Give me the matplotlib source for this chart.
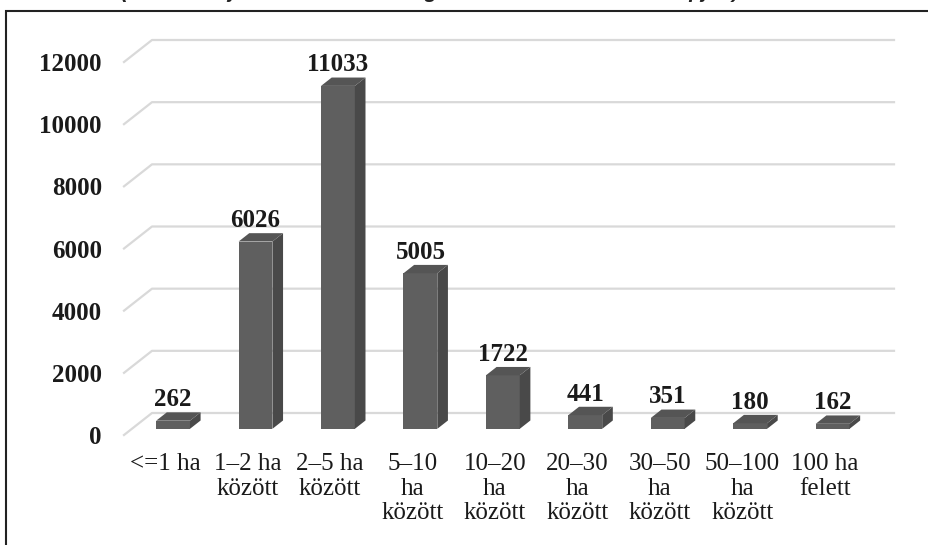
import matplotlib
matplotlib.use("Agg")
import matplotlib.pyplot as plt
from matplotlib.patches import Polygon, Rectangle

categories = ["<=1 ha", "1–2 ha\nközött", "2–5 ha\nközött", "5–10\nha\nközött",
              "10–20\nha\nközött", "20–30\nha\nközött", "30–50\nha\nközött",
              "50–100\nha\nközött", "100 ha\nfelett"]
values = [262, 6026, 11033, 5005, 1722, 441, 351, 180, 162]
yticks = [0, 2000, 4000, 6000, 8000, 10000, 12000]

W, H = 929, 545
fig = plt.figure(figsize=(W / 100, H / 100), dpi=100)
fig.patch.set_facecolor("white")

# front plane of the 3d box, in pixels
left_px, right_px = 124, 866
bottom_px, top_px = 435, 62
ax = fig.add_axes([left_px / W, 1 - bottom_px / H,
                   (right_px - left_px) / W, (bottom_px - top_px) / H])
ax.set_xlim(-0.5, len(values) - 0.5)
ax.set_ylim(0, 12000)
for s in ax.spines.values():
    s.set_visible(False)

# depth offset (full floor depth) in data units
cat_px = (right_px - left_px) / len(values)
px_per_unit = (bottom_px - top_px) / 12000
DX = 28 / cat_px
DY = 22 / px_per_unit

grid_c = "#d9d9d9"
for v in yticks:
    ax.plot([-0.5, -0.5 + DX, len(values) - 0.5 + DX], [v, v + DY, v + DY],
            color=grid_c, lw=1.6, clip_on=False, zorder=1)

d0, d1 = 0.28, 0.66
bw = 0.41
front_c, side_c, top_c = "#5f5f5f", "#494949", "#555555"
for i, v in enumerate(values):
    xl = i - bw / 2 + d0 * DX
    xr = i + bw / 2 + d0 * DX
    yb = d0 * DY
    yt = v + d0 * DY
    ddx = (d1 - d0) * DX
    ddy = (d1 - d0) * DY
    front = Polygon([(xl, yb), (xr, yb), (xr, yt), (xl, yt)], closed=True,
                    fc=front_c, ec="none", clip_on=False, zorder=3)
    side = Polygon([(xr, yb), (xr + ddx, yb + ddy), (xr + ddx, yt + ddy), (xr, yt)],
                   closed=True, fc=side_c, ec="none", clip_on=False, zorder=3)
    top = Polygon([(xl, yt), (xr, yt), (xr + ddx, yt + ddy), (xl + ddx, yt + ddy)],
                  closed=True, fc=top_c, ec="none", clip_on=False, zorder=3)
    for p in (front, side, top):
        ax.add_patch(p)
    ax.annotate(str(v), xy=((xl + xr) / 2, yt + ddy), xytext=(0, 4.5),
                textcoords="offset points", ha="center", va="baseline",
                fontsize=18, fontweight="bold", family="Liberation Serif",
                color="#1a1a1a", annotation_clip=False, zorder=4)

ax.set_yticks(yticks)
ax.set_yticklabels([str(t) for t in yticks], fontsize=18, fontweight="bold",
                   family="Liberation Serif", color="#1a1a1a")
ax.set_xticks(range(len(values)))
ax.set_xticklabels(categories, fontsize=18, family="Liberation Serif",
                   color="#1a1a1a", linespacing=1.15)
ax.tick_params(axis="y", length=0, pad=16)
ax.tick_params(axis="x", length=0, pad=13)

# outer frame (cut on the right and bottom)
fig.patches.append(Rectangle((6 / W, -0.1), 1.2, 1 - 11 / H + 0.1,
                             transform=fig.transFigure, fill=False,
                             ec="#222222", lw=1.5))
fig.text(430 / W, 1 + 7 / H, "(Forrás: saját szerkesztés az Agrárcenzus 2020 adatai alapján)",
         ha="center", va="center", fontsize=15, fontweight="bold",
         style="italic", family="Liberation Sans", color="#222222")

fig.savefig("out.png", dpi=100)
